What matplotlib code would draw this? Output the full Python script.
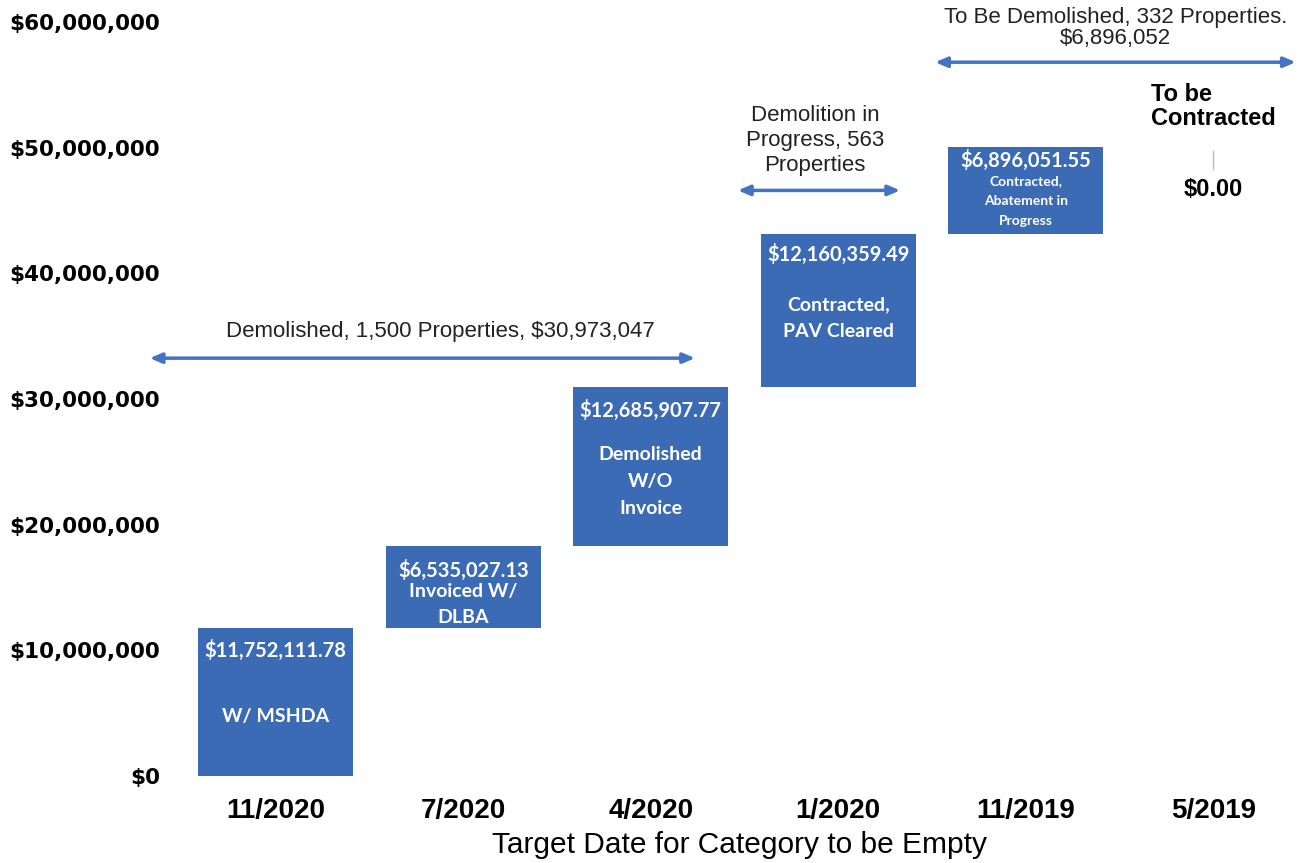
import matplotlib
matplotlib.use('Agg')
import matplotlib.pyplot as plt
import numpy as np

# --- data ---
categories = ['11/2020', '7/2020', '4/2020', '1/2020', '11/2019', '5/2019']
amounts = [11752111.78, 6535027.13, 12685907.77, 12160359.49, 6896051.55, 0.00]
value_labels = ['$11,752,111.78', '$6,535,027.13', '$12,685,907.77',
                '$12,160,359.49', '$6,896,051.55', '$0.00']
stage_labels = ['W/ MSHDA', 'Invoiced W/\nDLBA', 'Demolished\nW/O\nInvoice',
                'Contracted,\nPAV Cleared', 'Contracted,\nAbatement in\nProgress', '']
y_ticks = [0, 10e6, 20e6, 30e6, 40e6, 50e6, 60e6]

# --- layout (pixel offsets below each bar top) ---
value_offsets = [22, 24, 24, 20, 13]
stage_offsets = [88, 58, 95, 84, 54]
stage_sizes = [14, 14, 14, 14, 10]
stage_spacing = [1.7, 1.65, 1.72, 1.7, 1.8]

bar_color = '#3b6bb5'
arrow_color = '#4472c4'

fig = plt.figure(figsize=(12.98, 8.63), dpi=100)
ax = fig.add_axes([182 / 1298, 1 - 776 / 863, 1 - 182 / 1298, (776 - 22) / 863])

x = np.arange(len(categories))
amounts = np.array(amounts)
bottoms = np.concatenate([[0], np.cumsum(amounts)[:-1]])
tops = bottoms + amounts

ax.bar(x[:5], amounts[:5], bottom=bottoms[:5], width=0.827, color=bar_color)

for i in range(5):
    ax.annotate(value_labels[i], (x[i], tops[i]), xytext=(0, -value_offsets[i]),
                textcoords='offset pixels', ha='center', va='center',
                color='white', fontsize=14.5, fontweight='bold', family='Lato')
    ax.annotate(stage_labels[i], (x[i], tops[i]), xytext=(0, -stage_offsets[i]),
                textcoords='offset pixels', ha='center', va='center',
                color='white', fontsize=stage_sizes[i], fontweight='bold',
                family='Lato', linespacing=stage_spacing[i])

# zero-value category: leader line and label
ax.plot([5, 5], [48.3e6, 49.7e6], color='#bbbbbb', lw=1)
ax.text(5, 46.7e6, value_labels[5], ha='center', va='center', fontsize=17,
        fontweight='bold', family='Liberation Sans')
ax.text(5, 53.3e6, 'To be\nContracted', ha='center', va='center',
        multialignment='left', fontsize=17, fontweight='bold',
        family='Liberation Sans', linespacing=1.05)

# --- range arrows with captions ---
def range_arrow(x0, x1, y, caption, cx, cy, linespacing=1.2):
    ax.annotate('', xy=(x1, y), xytext=(x0, y),
                arrowprops=dict(arrowstyle='<|-|>,head_length=0.7,head_width=0.3',
                                color=arrow_color, lw=2.5, shrinkA=0, shrinkB=0),
                annotation_clip=False)
    ax.text(cx, cy, caption, ha='center', va='center', fontsize=16,
            family='Liberation Sans', color='#222222', linespacing=linespacing)

range_arrow(-0.672, 2.236, 33.25e6, 'Demolished, 1,500 Properties, $30,973,047', 0.88, 35.4e6)
range_arrow(2.465, 3.33, 46.6e6, 'Demolition in\nProgress, 563\nProperties', 2.876, 50.6e6,
            linespacing=1.25)
range_arrow(3.517, 5.44, 56.8e6, 'To Be Demolished, 332 Properties.\n$6,896,052',
            4.477, 59.5e6, linespacing=1.0)

# --- axes ---
ax.set_xlim(-0.5, 5.452)
ax.set_ylim(0, 60e6)
ax.set_yticks(y_ticks)
ax.set_yticklabels(['${:,.0f}'.format(v) for v in y_ticks])
ax.set_xticks(x)
ax.set_xticklabels(categories)
for lab in ax.get_yticklabels():
    lab.set_fontsize(15.5)
    lab.set_fontweight('bold')
    lab.set_family('DejaVu Sans')
for lab in ax.get_xticklabels():
    lab.set_fontsize(20)
    lab.set_fontweight('bold')
    lab.set_family('Liberation Sans')
ax.tick_params(length=0)
ax.tick_params(axis='y', pad=16)
ax.tick_params(axis='x', pad=16)
ax.set_xlabel('Target Date for Category to be Empty', fontsize=21.5,
              family='Liberation Sans', labelpad=5)
for s in ax.spines.values():
    s.set_visible(False)

fig.savefig('out.png', dpi=100)
